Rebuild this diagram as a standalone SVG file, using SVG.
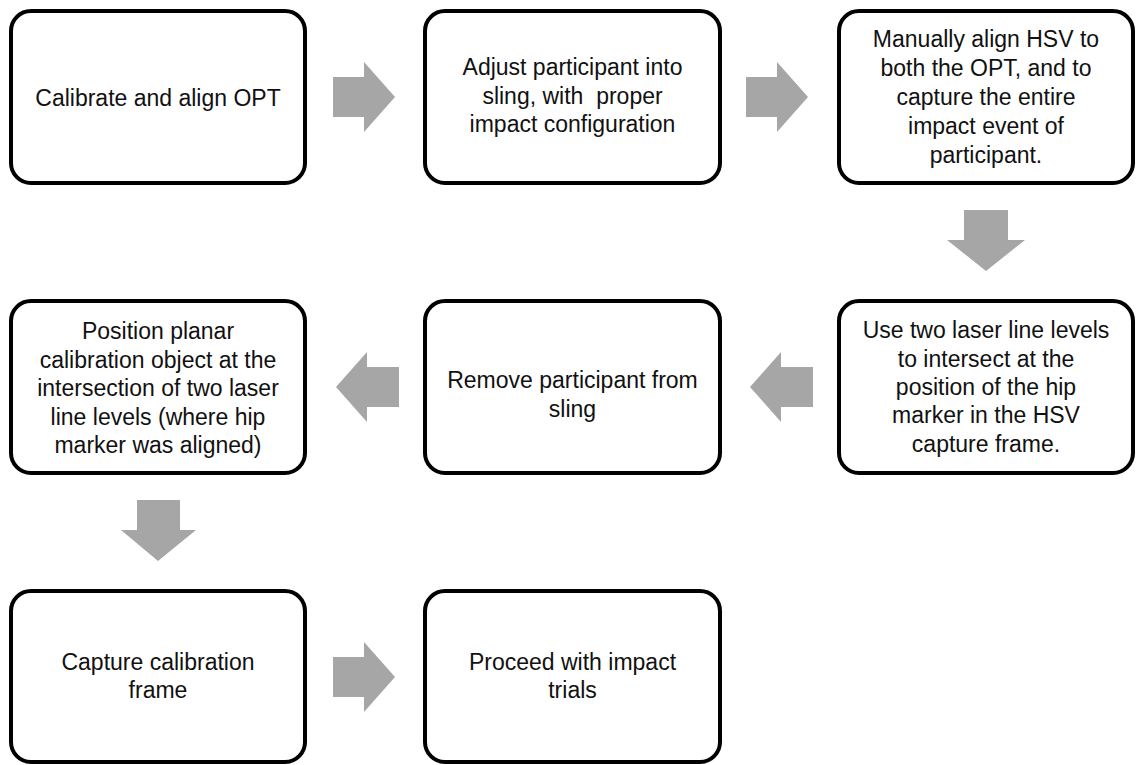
<svg xmlns="http://www.w3.org/2000/svg" width="1139" height="765" viewBox="0 0 1139 765">
<style>
.box{fill:#ffffff;stroke:#000000;stroke-width:4}
.t{font-family:"Liberation Sans",Arial,sans-serif;font-size:23px;fill:#111111;text-anchor:middle;white-space:pre}
.arr{fill:#a6a6a6}
</style>
<rect width="1139" height="765" fill="#ffffff"/>
<g id="connectors">
<polygon class="arr" points="333,77 364,77 364,62 395,97 364,132 364,117 333,117"/>
<polygon class="arr" points="746,77 777,77 777,62 808,97 777,132 777,117 746,117"/>
<polygon class="arr" points="964,210 1008,210 1008,240 1025,240 986,271 947,240 964,240"/>
<polygon class="arr" points="813,367 781,367 781,352 750,387 781,422 781,407 813,407"/>
<polygon class="arr" points="399,367 367,367 367,352 336,387 367,422 367,407 399,407"/>
<polygon class="arr" points="137,500 180,500 180,530 196,530 158,561 121,530 137,530"/>
<polygon class="arr" points="333,657 364,657 364,642 395,677 364,712 364,697 333,697"/>
</g>
<g id="n1">
<rect class="box" x="11" y="11" width="294" height="172" rx="20"/>
<text class="t" x="158" y="106">Calibrate and align OPT</text>
</g>
<g id="n2">
<rect class="box" x="425" y="11" width="295" height="172" rx="20"/>
<text class="t" x="572.5" y="75">Adjust participant into</text>
<text class="t" x="572.5" y="104">sling, with  proper</text>
<text class="t" x="572.5" y="132">impact configuration</text>
</g>
<g id="n3">
<rect class="box" x="839" y="11" width="294" height="172" rx="20"/>
<text class="t" x="986" y="47">Manually align HSV to</text>
<text class="t" x="986" y="76">both the OPT, and to</text>
<text class="t" x="986" y="105">capture the entire</text>
<text class="t" x="986" y="134">impact event of</text>
<text class="t" x="986" y="163">participant.</text>
</g>
<g id="n4">
<rect class="box" x="839" y="301" width="294" height="172" rx="20"/>
<text class="t" x="986" y="338">Use two laser line levels</text>
<text class="t" x="986" y="367">to intersect at the</text>
<text class="t" x="986" y="395">position of the hip</text>
<text class="t" x="986" y="423">marker in the HSV</text>
<text class="t" x="986" y="452">capture frame.</text>
</g>
<g id="n5">
<rect class="box" x="425" y="301" width="295" height="172" rx="20"/>
<text class="t" x="572.5" y="388">Remove participant from</text>
<text class="t" x="572.5" y="417">sling</text>
</g>
<g id="n6">
<rect class="box" x="11" y="301" width="294" height="172" rx="20"/>
<text class="t" x="158" y="339">Position planar</text>
<text class="t" x="158" y="368">calibration object at the</text>
<text class="t" x="158" y="396">intersection of two laser</text>
<text class="t" x="158" y="425">line levels (where hip</text>
<text class="t" x="158" y="453">marker was aligned)</text>
</g>
<g id="n7">
<rect class="box" x="11" y="591" width="294" height="171" rx="20"/>
<text class="t" x="158" y="670">Capture calibration</text>
<text class="t" x="158" y="698">frame</text>
</g>
<g id="n8">
<rect class="box" x="425" y="591" width="295" height="171" rx="20"/>
<text class="t" x="572.5" y="670">Proceed with impact</text>
<text class="t" x="572.5" y="698">trials</text>
</g>
</svg>
